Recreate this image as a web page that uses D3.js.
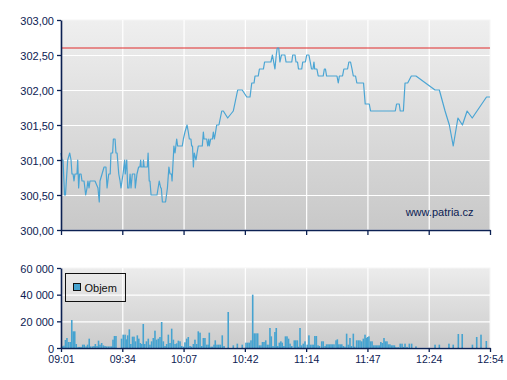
<!DOCTYPE html>
<html><head><meta charset="utf-8">
<script src="https://cdn.jsdelivr.net/npm/d3@7"></script>
<style>
body{margin:0;background:#fff}
svg{display:block;font-family:"Liberation Sans",Arial,sans-serif}
</style>
</head><body><svg id="c" width="507" height="380"></svg>
<script>
// ---- data ----
const xTickMinutes = [1, 34, 67, 102, 134, 167, 204, 234]; // minutes after 09:00
const xTickLabels = ["09:01", "09:34", "10:07", "10:42", "11:14", "11:47", "12:24", "12:54"];
const priceTicks = [300, 300.5, 301, 301.5, 302, 302.5, 303];
const volumeTicks = [0, 20000, 40000, 60000];
const referencePrice = 302.6;
const legendLabel = "Objem";
const watermark = "www.patria.cz";

const priceTime = [
 1.0,1.5,2.1,2.9,3.4,4.6,5.7,6.4,6.9,7.5,8.0,8.5,9.6,10.0,10.5,11.0,11.8,12.3,13.4,14.3,15.0,15.5,16.1,16.6,19.3,20.9,21.6,22.0,23.1,24.2,25.2,25.8,26.7,27.5,27.9,28.8,29.2,30.1,30.6,31.2,32.1,32.8,33.3,
 34.4,35.3,35.6,36.4,36.9,37.6,38.2,38.7,39.4,40.7,41.0,41.9,42.8,43.5,43.9,44.2,45.2,45.4,45.8,47.5,47.9,48.5,48.9,49.5,52.7,53.9,54.7,55.0,55.6,57.3,58.3,59.1,59.7,60.5,60.8,61.8,62.4,63.3,63.8,66.3,66.9,
 67.8,69.0,69.7,70.3,71.2,71.6,72.1,72.6,73.1,74.1,74.7,75.4,77.7,78.3,78.7,80.2,80.8,81.4,81.7,82.5,83.5,84.0,84.6,85.3,85.9,87.2,88.8,89.7,92.2,95.4,97.9,100.5,
 103.0,104.7,105.6,106.8,107.3,109.0,109.6,111.7,112.3,115.6,116.4,117.7,118.4,118.9,119.7,120.3,121.1,122.9,123.5,126.5,127.0,128.2,128.7,129.5,130.0,131.7,132.2,133.6,
 134.3,135.5,136.2,136.9,137.7,138.2,138.6,139.8,140.5,143.2,143.8,144.4,145.0,150.6,151.3,151.9,153.6,154.3,156.3,157.0,157.9,158.7,159.4,160.6,161.3,164.9,165.8,
 168.1,168.9,183.8,184.6,186.2,186.8,188.7,189.7,191.3,193.5,196.3,
 207.1,209.2,212.0,214.1,216.0,218.3,220.5,222.8,225.3,232.3,234.0
];
const priceValue = [
 301.1,301.0,301.0,300.5,300.5,301.0,301.1,301.0,300.8,300.8,300.7,300.8,300.8,301.0,300.6,300.8,300.8,300.7,300.7,300.5,300.6,300.7,300.6,300.7,300.7,300.6,300.4,300.7,300.8,300.9,300.9,300.6,300.8,300.8,301.1,301.1,301.3,301.3,301.1,301.1,300.8,300.7,300.6,
 300.8,301.0,300.8,301.0,300.6,300.6,300.8,300.6,300.8,300.8,300.6,300.8,300.9,300.9,301.0,300.9,300.9,301.0,300.9,300.9,301.1,300.7,300.7,300.5,300.5,300.7,300.6,300.6,300.4,300.4,300.6,300.9,300.8,300.8,300.7,301.2,301.1,301.3,301.2,301.2,301.3,
 301.4,301.5,301.4,301.3,301.3,301.2,301.2,300.9,301.1,301.0,301.1,301.2,301.2,301.4,301.3,301.3,301.2,301.3,301.2,301.3,301.3,301.4,301.3,301.4,301.5,301.5,301.7,301.7,301.6,301.7,302.0,302.0,
 301.9,301.9,302.1,302.1,302.2,302.2,302.3,302.3,302.4,302.4,302.5,302.3,302.5,302.6,302.6,302.4,302.5,302.5,302.4,302.4,302.5,302.5,302.4,302.4,302.3,302.3,302.4,302.4,
 302.5,302.5,302.4,302.3,302.3,302.4,302.3,302.3,302.2,302.2,302.3,302.3,302.2,302.2,302.1,302.2,302.2,302.3,302.3,302.4,302.4,302.3,302.2,302.2,302.1,302.1,301.8,
 301.8,301.7,301.7,301.8,301.8,301.7,301.7,302.1,302.1,302.2,302.2,
 302.0,302.0,301.7,301.5,301.2,301.6,301.5,301.7,301.6,301.9,301.9
];

const volumeTime = [
 1.3,1.9,2.6,3.4,4.2,5.1,6.0,6.8,7.6,8.4,9.2,10.2,11.0,11.8,12.7,13.5,14.5,15.3,16.2,17.0,18.0,18.8,19.5,20.4,21.2,22.0,22.9,23.8,24.7,25.6,26.5,27.4,28.3,29.0,29.8,30.6,33.6,
 34.5,35.5,36.2,36.9,37.8,38.6,39.5,40.3,41.1,42.1,42.9,43.7,44.5,45.3,46.1,47.0,48.0,48.9,49.8,50.7,51.6,52.5,53.4,54.3,55.2,56.1,57.0,57.9,58.8,59.7,60.6,61.5,62.4,63.3,64.2,65.1,66.0,
 67.0,67.8,68.8,69.7,70.7,71.6,72.6,73.5,74.5,75.4,76.4,77.4,78.3,79.2,80.2,81.1,81.7,82.7,83.5,84.4,85.1,86.1,87.1,88.0,89.1,90.1,92.5,95.4,97.7,100.5,
 102.6,103.5,104.3,105.2,106.1,106.9,107.8,108.7,109.5,110.4,111.2,112.0,112.9,113.7,114.6,115.1,115.8,116.7,117.7,118.4,119.2,120.0,120.8,121.5,122.4,123.2,124.0,124.8,125.6,126.5,127.8,128.6,129.4,130.0,130.8,131.6,132.5,133.4,
 134.6,135.5,136.3,137.2,138.0,138.7,139.5,140.4,141.2,142.4,143.2,144.2,145.0,145.8,146.6,147.4,148.2,149.0,150.1,150.8,151.6,152.4,153.2,154.0,154.9,155.8,156.7,157.6,158.4,159.4,160.2,161.2,162.1,163.0,163.9,164.8,165.7,166.4,
 167.1,167.9,168.9,169.8,170.7,171.6,172.5,173.4,174.3,175.1,176.0,177.0,177.9,178.8,179.7,180.6,181.5,182.4,183.3,184.2,185.5,186.8,187.9,188.8,189.7,190.9,192.3,193.7,196.3,
 207.1,209.2,213.9,216.0,218.5,220.4,225.4,227.5,229.6,232.2
];
const volumeValue = [
 500,1250,1750,6000,7500,4500,4500,21000,12500,12500,3000,800,800,800,2500,2500,1200,2500,7000,1200,1200,1500,3000,1500,5500,2500,3750,2000,1500,1200,1200,1200,1200,6250,9000,9000,7000,
 10000,10000,6500,9500,14000,3000,8500,8500,5000,9500,7000,3750,3000,18000,3000,5000,7000,2500,5000,7500,13000,6250,7000,8250,19500,5000,1500,3000,10000,3750,14500,6250,3000,3500,5500,5000,1500,
 1000,4250,7000,8250,1500,1000,3000,6250,3000,12500,11500,1500,7500,7500,2500,2500,11500,1000,1000,2500,5750,2500,2500,2500,9500,1500,27000,2000,3250,2500,
 4000,4000,4000,5750,40000,11000,11000,11000,2000,2000,4500,4500,5750,2500,2500,15000,8750,1500,12000,15000,1500,4000,5000,4000,1500,8750,8750,7000,3250,1500,5750,5750,5750,1000,15000,2000,3250,5000,
 2500,9500,2500,2500,2500,9000,9000,2000,1500,5000,5000,1500,2750,2750,2750,2750,2750,2750,5750,6500,2750,2750,2750,1500,1000,10750,2500,7500,1500,10750,1000,5750,5750,5750,5000,7000,10000,7500,
 8250,8750,5000,5000,2000,2000,2000,2000,2000,4500,3750,7500,5000,5000,2750,2750,2000,2000,2000,700,700,3250,3250,800,3250,800,3250,3250,1250,
 2500,2500,3250,2500,10500,10500,2500,8250,10000,5250
];

// ---- layout ----
const svg = d3.select("#c");
const L = 61, R = 490, mainTop = 20, mainBot = 230, volTop = 268, volBot = 348;
const navy = "#0c2153", gridCol = "#ffffff", lineCol = "#4aa5d4", barCol = "#46a3d0";

const x = d3.scaleLinear().domain(xTickMinutes)
  .range(xTickMinutes.map((d, i) => L + (R - L) * i / (xTickMinutes.length - 1)));
const y = d3.scaleLinear().domain([300, 303]).range([mainBot, mainTop]);
const yv = d3.scaleLinear().domain([0, 60000]).range([volBot, volTop]);

const defs = svg.append("defs");
const g1 = defs.append("linearGradient").attr("id", "bg").attr("x1", 0).attr("y1", 0).attr("x2", 0).attr("y2", 1);
g1.append("stop").attr("offset", "0%").attr("stop-color", "#efefef");
g1.append("stop").attr("offset", "100%").attr("stop-color", "#c8c8c8");
const g2 = defs.append("linearGradient").attr("id", "bg2").attr("x1", 0).attr("y1", 0).attr("x2", 0).attr("y2", 1);
g2.append("stop").attr("offset", "0%").attr("stop-color", "#ececec");
g2.append("stop").attr("offset", "100%").attr("stop-color", "#cbcbcb");

// panels
svg.append("rect").attr("x", L).attr("y", mainTop).attr("width", R - L).attr("height", mainBot - mainTop)
  .attr("fill", "url(#bg)").attr("stroke", "#f6f6f6").attr("stroke-width", 1);
svg.append("rect").attr("x", L).attr("y", volTop).attr("width", R - L).attr("height", volBot - volTop)
  .attr("fill", "url(#bg2)").attr("stroke", "#f6f6f6").attr("stroke-width", 1);

function styleGrid(g) {
  g.select(".domain").remove();
  g.selectAll(".tick line").attr("stroke", gridCol).attr("stroke-width", 1.2);
  g.selectAll("text").remove();
}
// gridlines main
svg.append("g").attr("transform", `translate(${L},0)`)
  .call(d3.axisLeft(y).tickValues(priceTicks.slice(1, -1)).tickSize(-(R - L)).tickFormat(""))
  .call(styleGrid);
svg.append("g").attr("transform", `translate(0,${mainBot})`)
  .call(d3.axisBottom(x).tickValues(xTickMinutes.slice(1, -1)).tickSize(-(mainBot - mainTop)).tickFormat(""))
  .call(styleGrid);
// gridlines volume
svg.append("g").attr("transform", `translate(${L},0)`)
  .call(d3.axisLeft(yv).tickValues(volumeTicks.slice(1, -1)).tickSize(-(R - L)).tickFormat(""))
  .call(styleGrid);
svg.append("g").attr("transform", `translate(0,${volBot})`)
  .call(d3.axisBottom(x).tickValues(xTickMinutes.slice(1, -1)).tickSize(-(volBot - volTop)).tickFormat(""))
  .call(styleGrid);

// reference line
svg.append("line").attr("x1", L).attr("x2", R).attr("y1", y(referencePrice)).attr("y2", y(referencePrice))
  .attr("stroke", "#e02a2a").attr("stroke-width", 1.2);

// price line
const pts = priceTime.map((t, i) => [t, priceValue[i]]);
svg.append("path").datum(pts)
  .attr("fill", "none").attr("stroke", lineCol).attr("stroke-width", 1.2).attr("stroke-linejoin", "round")
  .attr("d", d3.line().x(d => x(d[0])).y(d => y(d[1])));

// volume bars
const bars = volumeTime.map((t, i) => [t, volumeValue[i]]);
svg.append("g").selectAll("rect").data(bars).join("rect")
  .attr("x", d => x(d[0]) - 0.8).attr("width", 1.6)
  .attr("y", d => yv(d[1])).attr("height", d => volBot - yv(d[1]))
  .attr("fill", barCol);

// axes
function styleAxis(g) {
  g.select(".domain").attr("stroke", navy).attr("stroke-width", 1.6);
  g.selectAll(".tick line").attr("stroke", navy).attr("stroke-width", 1.3);
  g.selectAll("text").attr("fill", navy).attr("font-size", "11px").attr("font-family", '"Liberation Sans",Arial,sans-serif');
}
const fmtPrice = d => d3.format(".2f")(d).replace(".", ",");
const fmtVol = d => d3.format(",")(d).replace(/,/g, " ");

svg.append("g").attr("transform", `translate(${L},0)`)
  .call(d3.axisLeft(y).tickValues(priceTicks).tickSize(4).tickSizeOuter(0).tickPadding(3).tickFormat(fmtPrice))
  .call(styleAxis).selectAll("text").attr("dy", "0.45em");
svg.append("g").attr("transform", `translate(0,${mainBot})`)
  .call(d3.axisBottom(x).tickValues(xTickMinutes).tickSize(5).tickSizeOuter(0).tickFormat(""))
  .call(styleAxis);

svg.append("g").attr("transform", `translate(${L},0)`)
  .call(d3.axisLeft(yv).tickValues(volumeTicks).tickSize(4).tickSizeOuter(0).tickPadding(3).tickFormat(fmtVol))
  .call(styleAxis).selectAll("text").attr("dy", "0.38em");
svg.append("g").attr("transform", `translate(0,${volBot})`)
  .call(d3.axisBottom(x).tickValues(xTickMinutes).tickSize(4).tickSizeOuter(0).tickPadding(4).tickFormat((d, i) => xTickLabels[i]))
  .call(styleAxis)
  .selectAll("text").attr("font-size", "10.5px");

// watermark
svg.append("text").attr("x", 473.5).attr("y", 216).attr("text-anchor", "end")
  .attr("font-size", "11px").attr("fill", navy).text(watermark);

// legend
const lg = svg.append("g");
lg.append("rect").attr("x", 65.5).attr("y", 273.5).attr("width", 60).attr("height", 28)
  .attr("fill", "none").attr("stroke", "#111").attr("stroke-width", 1);
lg.append("rect").attr("x", 73.5).attr("y", 283.5).attr("width", 7).attr("height", 7)
  .attr("fill", barCol).attr("stroke", "#111").attr("stroke-width", 1);
lg.append("text").attr("x", 84.5).attr("y", 291.5).attr("font-size", "11px").attr("fill", "#111").text(legendLabel);
</script>
</body></html>
